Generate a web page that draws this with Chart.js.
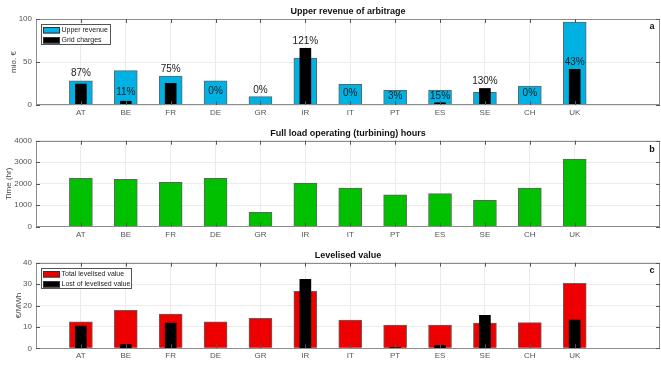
<!DOCTYPE html>
<html>
<head>
<meta charset="utf-8">
<script src="https://cdn.jsdelivr.net/npm/chart.js@4.4.0/dist/chart.umd.min.js"></script>
<style>
  html, body { margin: 0; padding: 0; background: #fff; }
  #wrap { position: relative; width: 661px; height: 367px; overflow: hidden; background: #fff; }
  #wrap canvas { position: absolute; left: 0; }
</style>
</head>
<body>
<div id="wrap">
  <canvas id="panelA" width="661" height="121" style="top:0px"></canvas>
  <canvas id="panelB" width="661" height="121" style="top:121px"></canvas>
  <canvas id="panelC" width="661" height="125" style="top:242px"></canvas>
</div>
<script>
// ---- data -------------------------------------------------------------
const countries = ['AT', 'BE', 'FR', 'DE', 'GR', 'IR', 'IT', 'PT', 'ES', 'SE', 'CH', 'UK'];

// upper revenue of arbitrage, mio. €
const upperRevenue = [28, 40, 33.5, 28, 9.7, 54.5, 24, 17, 17.4, 14.8, 22, 96.5];
// grid charges as a share of the upper revenue, %
const gridChargePct = [87, 11, 75, 0, 0, 121, 0, 3, 15, 130, 0, 43];

// full load operating (turbining) hours
const turbiningHours = [2250, 2200, 2060, 2250, 670, 2030, 1800, 1480, 1535, 1230, 1800, 3150];

// levelised value, €/MWh
const totalLevelised = [12.4, 17.8, 16.0, 12.4, 14.0, 26.6, 13.2, 10.9, 10.9, 11.8, 12.0, 30.4];
const lostLevelised  = [10.4, 1.7, 11.8, 0, 0, 32.2, 0, 0.3, 1.4, 15.4, 0, 13.2];

// y-axis tick values
const revenueTicks = [0, 50, 100];
const hoursTicks = [0, 1000, 2000, 3000, 4000];
const levelisedTicks = [0, 10, 20, 30, 40];

// grid charges in mio. € follow from the revenue and the stated share
const gridCharges = upperRevenue.map((v, i) => v * gridChargePct[i] / 100);

// ---- style -------------------------------------------------------------
const FONT = '"Liberation Sans", Arial, Helvetica, sans-serif';
Chart.defaults.font.family = FONT;
const GRID = '#ebebeb';
const AXIS = '#8c8c8c';
const TICKTXT = '#555555';
const EDGE = 'rgba(70,70,70,0.85)';
const CYAN = 'rgb(0,178,228)';
const GREEN = 'rgb(0,192,0)';
const RED = 'rgb(238,0,0)';

// height (in data units) where each percentage text sits in panel a
const pctTextLevel = [37.4, 14.3, 41.3, 16.1, 17.1, 74.6, 14.2, 10.7, 10.3, 28.1, 14.2, 49.6];

const points = arr => arr.map((v, i) => ({ x: i + 1, y: v }));

// draws the MATLAB-like frame, inward ticks, title, panel letter, y title, legend
const panelDecor = {
  id: 'panelDecor',
  afterDraw(chart, args, o) {
    const ctx = chart.ctx;
    const a = chart.chartArea;
    const xs = chart.scales.x, ys = chart.scales.y;
    ctx.save();

    // frame
    ctx.strokeStyle = AXIS;
    ctx.lineWidth = 1;
    ctx.strokeRect(Math.round(a.left) + 0.5, Math.round(a.top) + 0.5,
                   Math.round(a.right - a.left) - 1, Math.round(a.bottom - a.top) - 1);

    // inward tick marks on all four sides
    ctx.strokeStyle = '#555';
    ctx.beginPath();
    xs.ticks.forEach(t => {
      const px = Math.round(xs.getPixelForValue(t.value)) + 0.5;
      ctx.moveTo(px, a.top); ctx.lineTo(px, a.top + 4);
      ctx.moveTo(px, a.bottom); ctx.lineTo(px, a.bottom - 4);
    });
    ys.ticks.forEach(t => {
      const py = Math.round(ys.getPixelForValue(t.value)) + 0.5;
      ctx.moveTo(a.left, py); ctx.lineTo(a.left + 4, py);
      ctx.moveTo(a.right, py); ctx.lineTo(a.right - 4, py);
    });
    ctx.stroke();

    // title
    ctx.fillStyle = '#111';
    ctx.font = 'bold 9px ' + FONT;
    ctx.textAlign = 'center';
    ctx.textBaseline = 'middle';
    ctx.fillText(o.title, (a.left + a.right) / 2, o.titleY);

    // panel letter
    ctx.font = 'bold 9px ' + FONT;
    ctx.fillText(o.letter, 652, o.letterY);

    // y-axis title
    ctx.save();
    ctx.translate(o.yTitleX, (a.top + a.bottom) / 2);
    ctx.rotate(-Math.PI / 2);
    ctx.fillStyle = '#444';
    ctx.font = '8px ' + FONT;
    ctx.fillText(o.yTitle, 0, 0);
    ctx.restore();

    // legend box inside the plot
    if (o.legend) {
      const L = o.legend;
      ctx.fillStyle = '#fff';
      ctx.fillRect(L.x, L.y, L.w, L.h);
      ctx.strokeStyle = '#555';
      ctx.strokeRect(L.x + 0.5, L.y + 0.5, L.w - 1, L.h - 1);
      ctx.font = '7px ' + FONT;
      ctx.textAlign = 'left';
      ctx.textBaseline = 'middle';
      L.items.forEach((it, k) => {
        const cy = L.y + 6 + k * 10;
        ctx.fillStyle = it.color;
        ctx.fillRect(L.x + 2, cy - 3, 17, 6.5);
        ctx.strokeStyle = '#333';
        ctx.strokeRect(L.x + 2.5, cy - 2.5, 16, 5.5);
        ctx.fillStyle = '#222';
        ctx.fillText(it.label, L.x + 20.5, cy + 0.5);
      });
    }

    // percentage texts
    if (o.pct) {
      ctx.fillStyle = '#1a1a1a';
      ctx.font = '10px ' + FONT;
      ctx.textAlign = 'center';
      ctx.textBaseline = 'middle';
      o.pct.values.forEach((p, i) => {
        ctx.fillText(p + '%', xs.getPixelForValue(i + 1), ys.getPixelForValue(o.pct.levels[i]));
      });
    }
    ctx.restore();
  }
};

function makePanel(canvasId, cfg) {
  const canvasH = document.getElementById(canvasId).height;
  return new Chart(document.getElementById(canvasId), {
    type: 'bar',
    data: { datasets: cfg.datasets },
    options: {
      responsive: false,
      animation: false,
      events: [],
      layout: { padding: { left: 0, right: 1, top: cfg.plotTop, bottom: 0 } },
      plugins: {
        legend: { display: false },
        tooltip: { enabled: false },
        title: { display: false },
        panelDecor: cfg.decor
      },
      scales: {
        x: {
          type: 'linear',
          offset: false,
          min: 0,
          max: 13.9,
          afterBuildTicks: s => { s.ticks = countries.map((c, i) => ({ value: i + 1 })); },
          afterFit: s => { s.height = canvasH - cfg.plotBottom; },
          ticks: {
            callback: v => countries[v - 1] || '',
            autoSkip: false, maxRotation: 0,
            color: TICKTXT, font: { size: 8 }, padding: 3
          },
          grid: { color: GRID, drawTicks: false, offset: false },
          border: { display: false }
        },
        y: {
          type: 'linear',
          min: cfg.yTicks[0],
          max: cfg.yTicks[cfg.yTicks.length - 1],
          afterBuildTicks: s => { s.ticks = cfg.yTicks.map(v => ({ value: v })); },
          afterFit: s => { s.width = 36; },
          ticks: { color: TICKTXT, font: { size: 8 }, padding: 4, callback: v => String(v) },
          grid: { color: GRID, drawTicks: false },
          border: { display: false }
        }
      }
    },
    plugins: [panelDecor]
  });
}

// a: upper revenue vs grid charges
makePanel('panelA', {
  plotTop: 19, plotBottom: 105,
  yTicks: revenueTicks,
  datasets: [
    { label: 'Grid charges', data: points(gridCharges), backgroundColor: '#000', borderWidth: 0,
      barThickness: 11, grouped: false, order: 0 },
    { label: 'Upper revenue', data: points(upperRevenue), backgroundColor: CYAN, borderColor: EDGE,
      borderWidth: 1, barThickness: 23, grouped: false, order: 1 }
  ],
  decor: {
    title: 'Upper revenue of arbitrage', titleY: 11.5,
    letter: 'a', letterY: 26.5,
    yTitle: 'mio. €', yTitleX: 14,
    legend: { x: 41, y: 24, w: 70, h: 21,
      items: [{ label: 'Upper revenue', color: CYAN }, { label: 'Grid charges', color: '#000' }] },
    pct: { values: gridChargePct, levels: pctTextLevel }
  }
});

// b: full load hours
makePanel('panelB', {
  plotTop: 19.7, plotBottom: 105.7,
  yTicks: hoursTicks,
  datasets: [
    { label: 'Full load hours', data: points(turbiningHours), backgroundColor: GREEN, borderColor: EDGE,
      borderWidth: 1, barThickness: 23, grouped: false }
  ],
  decor: {
    title: 'Full load operating (turbining) hours', titleY: 13,
    letter: 'b', letterY: 29,
    yTitle: 'Time (hr)', yTitleX: 8.5
  }
});

// c: levelised value
makePanel('panelC', {
  plotTop: 20.7, plotBottom: 106.3,
  yTicks: levelisedTicks,
  datasets: [
    { label: 'Lost of levelised value', data: points(lostLevelised), backgroundColor: '#000', borderWidth: 0,
      barThickness: 11, grouped: false, order: 0 },
    { label: 'Total levelised value', data: points(totalLevelised), backgroundColor: RED, borderColor: EDGE,
      borderWidth: 1, barThickness: 23, grouped: false, order: 1 }
  ],
  decor: {
    title: 'Levelised value', titleY: 14,
    letter: 'c', letterY: 29,
    yTitle: '€/MWh', yTitleX: 18.5,
    legend: { x: 41, y: 26, w: 91, h: 21,
      items: [{ label: 'Total levelised value', color: RED }, { label: 'Lost of levelised value', color: '#000' }] }
  }
});
</script>
</body>
</html>
